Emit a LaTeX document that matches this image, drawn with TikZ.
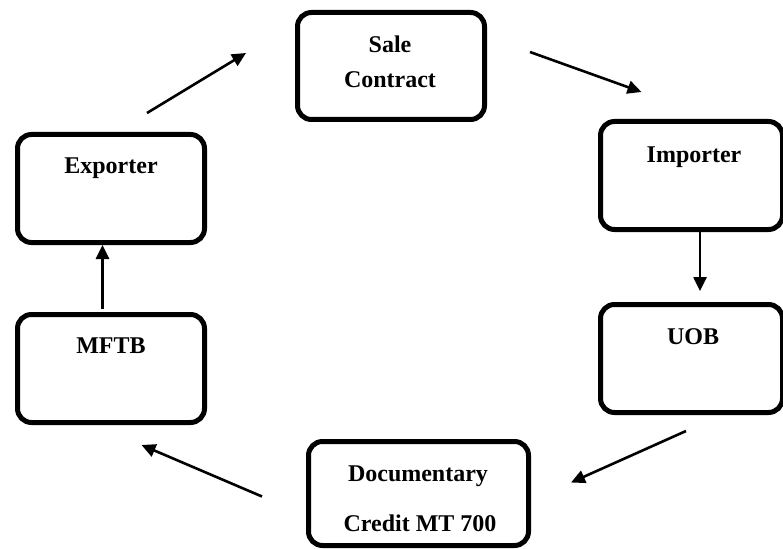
\documentclass[tikz,border=0pt]{standalone}
\usepackage{fontspec}
\setmainfont{Liberation Serif}
\usetikzlibrary{arrows.meta}
\begin{document}
\begin{tikzpicture}[x=1pt,y=-1pt,
  box/.style={draw, line width=5pt, rounded corners=14pt, inner sep=0pt},
  lbl/.style={anchor=base, inner sep=0pt, font=\fontsize{24}{28}\selectfont\bfseries},
  arr/.style={line width=2.6pt, -{Triangle[length=14pt,width=13pt]}}]
\useasboundingbox (0,0) rectangle (783,548);
% boxes
\node[box, minimum width=187pt, minimum height=107pt] (sale) at (391,66) {};
\node[box, minimum width=182pt, minimum height=108pt] (imp) at (691.5,175.5) {};
\node[box, minimum width=182pt, minimum height=108pt] (uob) at (691.5,358.5) {};
\node[box, minimum width=220pt, minimum height=104pt] (doc) at (418.5,493.5) {};
\node[box, minimum width=187pt, minimum height=108pt] (mftb) at (111,368.5) {};
\node[box, minimum width=187pt, minimum height=108pt] (exp) at (111,188.5) {};
% labels
\node[lbl] (t1) at (390,52.5) {Sale};
\node[lbl] (t2) at (390,87.5) {Contract};
\node[lbl] (t3) at (694,162) {Importer};
\node[lbl] (t4) at (693,344) {UOB};
\node[lbl] (t5) at (418,481) {Documentary};
\node[lbl] (t6) at (420,531.5) {Credit MT 700};
\node[lbl] (t7) at (111,353) {MFTB};
\node[lbl] (t8) at (111,173) {Exporter};
% arrow end points
\coordinate (a1s) at (147,113);
\coordinate (a1e) at (246,53);
\coordinate (a2s) at (530,52);
\coordinate (a2e) at (641.5,92);
\coordinate (a3) at (700,0);
\coordinate (a4s) at (686,431);
\coordinate (a4e) at (571,482.5);
\coordinate (a5s) at (262,496.5);
\coordinate (a5e) at (141.5,445);
\coordinate (a6) at (102.5,0);
% connectors
\draw[arr] (a1s) -- (a1e);
\draw[arr] (a2s) -- (a2e);
\draw[arr, shorten >=11pt] (imp.south -| a3) -- (uob.north -| a3);
\draw[arr] (a4s) -- (a4e);
\draw[arr] (a5s) -- (a5e);
\draw[arr, shorten <=3pt] (mftb.north -| a6) -- (exp.south -| a6);
\end{tikzpicture}
\end{document}
